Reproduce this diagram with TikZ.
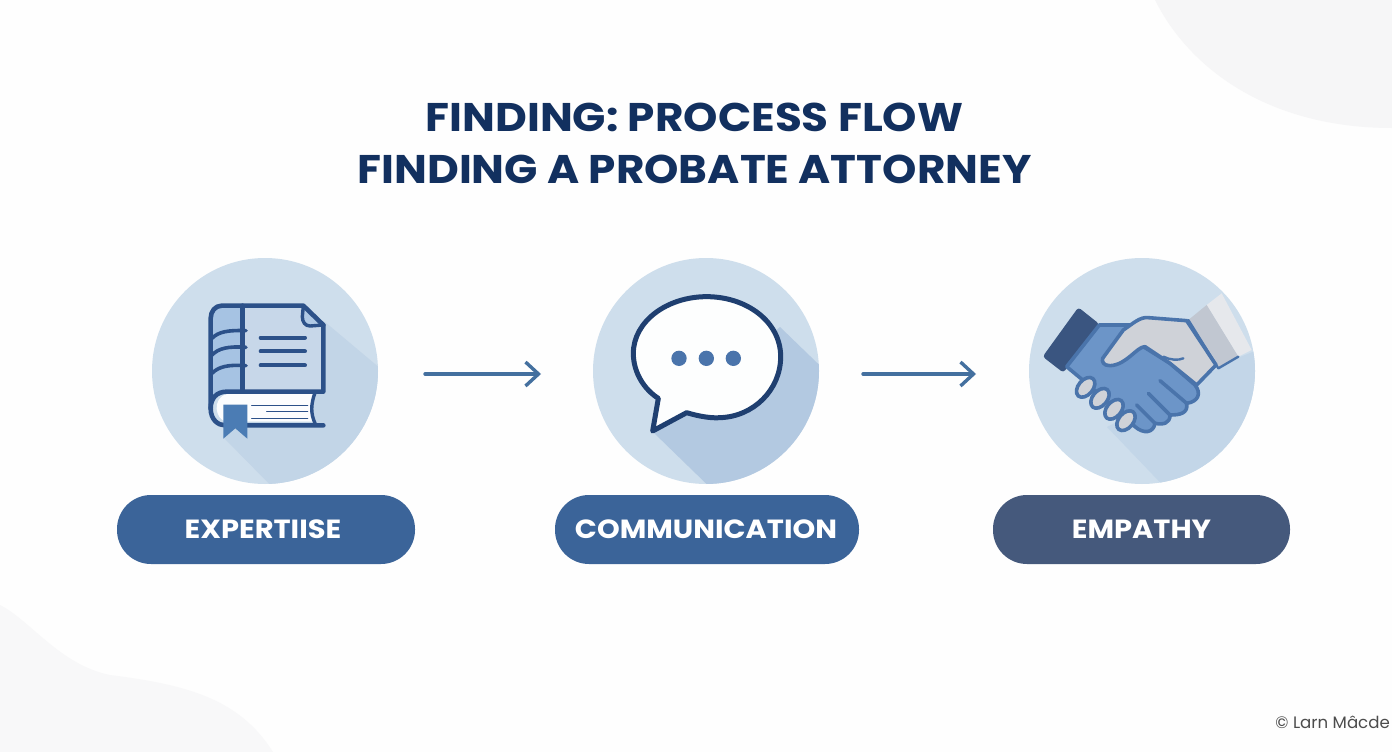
\documentclass[tikz,border=0pt]{standalone}
\usepackage{fontspec}
\setmainfont{Poppins}
\usetikzlibrary{arrows.meta}
\definecolor{bgc}{HTML}{FEFEFE}
\definecolor{blobc}{HTML}{F6F6F7}
\definecolor{blobb}{HTML}{F8F8F9}
\definecolor{navy}{HTML}{12305F}
\definecolor{discc}{HTML}{CEDEEC}
\definecolor{shA}{HTML}{C2D5E7}
\definecolor{shB}{HTML}{B3C9E1}
\definecolor{shC}{HTML}{C3D6E8}
\definecolor{pillA}{HTML}{3B6499}
\definecolor{pillB}{HTML}{45597C}
\definecolor{arrowc}{HTML}{44709F}
\definecolor{ink}{HTML}{2C5189}
\definecolor{inkd}{HTML}{1F3F70}
\definecolor{handb}{HTML}{6C95C8}
\definecolor{hands}{HTML}{4A74AB}
\definecolor{handg}{HTML}{CFD2D8}
\definecolor{cuffw}{HTML}{E6E8EC}
\definecolor{cuffg}{HTML}{C1C7D1}
\definecolor{cuffd}{HTML}{3A5580}
\definecolor{pagec}{HTML}{C7D7E9}
\definecolor{spinec}{HTML}{A6C3E3}
\definecolor{markc}{HTML}{4B7CB4}
\tikzset{
  x=1pt,y=-1pt,
  discnode/.style={circle,fill=discc,minimum size=226pt,inner sep=0pt},
  pill/.style={rounded corners=34pt,minimum height=69pt,inner sep=0pt,text=white,font=\fontsize{26.3}{30}\selectfont\bfseries\addfontfeatures{FakeStretch=1.1}},
  flow/.style={draw=arrowc,line width=3.4pt,line cap=round,-{Straight Barb[length=13pt,width=24pt,line width=3.4pt]}},
  zoomed/.style={x=0.33333pt,y=-0.33333pt,line join=round,line cap=round},
  iconline/.style={draw=ink,line width=4.6pt},
  handline/.style={draw=hands,line width=3.6pt},
}
\begin{document}
\begin{tikzpicture}
\useasboundingbox (0,0) rectangle (1392,752);
\fill[bgc] (0,0) rectangle (1392,752);
% background blobs
\fill[blobc] (1155,0) .. controls (1190,70) and (1270,128) .. (1392,128) -- (1392,0) -- cycle;
\fill[blobb] (0,605) .. controls (30,620) and (60,665) .. (110,675) .. controls (190,685) and (240,700) .. (273,752) -- (0,752) -- cycle;
% title
\node[font=\fontsize{40}{52}\selectfont\bfseries\addfontfeatures{FakeStretch=1.093},text=navy,align=center,anchor=center] (title) at (694.5,143) {FINDING: PROCESS FLOW\\FINDING A PROBATE ATTORNEY};
% discs
\node[discnode] (d1) at (265,371) {};
\node[discnode] (d2) at (706,371) {};
\node[discnode] (d3) at (1142,371) {};
% long shadows
\begin{scope}
\clip (265,371) circle (113);
\fill[shA] (325,322) -- (400,385) -- (400,500) -- (285,500) -- (223,437) -- cycle;
\end{scope}
\begin{scope}
\clip (706,371) circle (113);
\fill[shB] (780,327) -- (840,385) -- (840,500) -- (723,500) -- (653,432) -- cycle;
\end{scope}
\begin{scope}
\clip (1142,371) circle (113);
\fill[shC] (1107,427) -- (1175,498) -- (1270,498) -- (1270,345) -- (1240,357) -- cycle;
\end{scope}
% book
\begin{scope}[shift={(140,250)},zoomed]
\fill[pagec] (310,170) -- (490,170) -- (550,225) -- (550,425) -- (310,425) -- cycle;
\fill[spinec] (305,170) -- (245,170) .. controls (225,170) and (212,185) .. (212,205) -- (212,470) .. controls (215,440) and (235,425) .. (260,425) -- (305,425) -- cycle;
\fill[white!93!discc] (260,432) -- (525,432) .. controls (512,465) and (512,490) .. (525,515) -- (260,515) .. controls (225,510) and (215,445) .. (260,432) -- cycle;
\fill[spinec!70!pagec] (490,170) -- (550,225) -- (510,228) .. controls (495,228) and (487,215) .. (487,200) -- cycle;
\draw[iconline] (550,225) -- (550,425) -- (260,425) .. controls (230,425) and (212,445) .. (212,475) .. controls (212,510) and (235,526) .. (255,526) -- (550,526);
\draw[iconline] (212,475) -- (212,205) .. controls (212,185) and (225,167) .. (245,167) -- (490,167) -- (550,225);
\draw[iconline] (308,167) -- (308,425);
\draw[iconline,line width=3.4pt] (490,167) -- (487,200) .. controls (487,215) and (495,228) .. (510,228) -- (550,225);
\draw[iconline,line width=3.6pt] (216,265) .. controls (235,245) and (265,240) .. (318,242);
\draw[iconline,line width=3.6pt] (216,315) .. controls (235,295) and (265,288) .. (318,292);
\draw[iconline,line width=3.6pt] (216,370) .. controls (235,350) and (265,343) .. (318,347);
\draw[iconline,line width=4pt] (362,263) -- (495,263);
\draw[iconline,line width=4pt] (362,304) -- (495,304);
\draw[iconline,line width=4pt] (362,346) -- (495,346);
\draw[draw=ink,line width=1.2pt] (335,466) -- (503,466);
\draw[draw=ink,line width=1.2pt] (380,485) -- (503,485);
\draw[draw=ink,line width=1.2pt] (335,505) -- (503,505);
\draw[iconline,line width=3.4pt] (525,428) .. controls (512,465) and (512,490) .. (525,520);
\fill[markc] (250,464) -- (322,464) -- (322,566) -- (286,535) -- (250,566) -- cycle;
\end{scope}
% speech bubble
\begin{scope}[shift={(580,250)},zoomed]
\filldraw[fill=white!96!discc,draw=inkd,line width=5pt]
 (320,488) .. controls (360,500) and (395,505) .. (420,503)
 .. controls (520,500) and (602,420) .. (602,320)
 .. controls (602,215) and (500,140) .. (380,140)
 .. controls (260,140) and (160,215) .. (160,310)
 .. controls (160,370) and (195,420) .. (235,445)
 -- (218,543) -- cycle;
\fill[hands] (297,325) circle (23) (379,325) circle (23) (460,325) circle (23);
\end{scope}
% handshake
\begin{scope}[shift={(1020,250)},zoomed]
\fill[cuffw] (560,165) -- (605,130) -- (695,300) -- (655,320) -- cycle;
\fill[cuffg] (505,210) -- (560,165) -- (655,320) -- (595,355) -- cycle;
\draw[handline,line width=2.4pt] (505,210) -- (595,355) -- (655,320);
\fill[cuffd,rounded corners=3pt] (175,172) -- (238,222) -- (130,368) -- (68,320) -- cycle;
\filldraw[fill=handb,handline] (238,225) -- (340,225) -- (370,290) -- (450,340) -- (525,405) .. controls (545,430) and (535,455) .. (500,460) .. controls (505,490) and (480,495) .. (450,495) .. controls (450,520) and (430,525) .. (405,520) .. controls (400,550) and (370,552) .. (345,530) -- (200,400) -- (140,350) -- cycle;
\filldraw[fill=handg,handline] (248,325) -- (310,240) .. controls (340,220) and (360,200) .. (385,203) -- (500,212) -- (588,345) -- (530,405) -- (450,340) -- (375,290) .. controls (350,290) and (320,345) .. (270,347) .. controls (250,347) and (245,335) .. (248,325) -- cycle;
\draw[handline,line width=2.4pt] (430,320) .. controls (450,330) and (475,332) .. (490,325);
\draw[handline] (420,392) -- (500,460);
\draw[handline] (385,430) -- (450,495);
\draw[handline] (350,465) -- (405,520);
\foreach \cx/\cy in {197/412,240/445,282/478,318/512}{
  \filldraw[fill=handg,draw=hands,line width=3.6pt,rotate around={50:(\cx,\cy)}] (\cx,\cy) ellipse (34 and 22);
}
\end{scope}
% pills
\node[pill,fill=pillA,minimum width=298pt] (p1) at (266,529.5) {EXPERTIISE\hspace*{6pt}};
\node[pill,fill=pillA,minimum width=304pt] (p2) at (707,529.5) {\hspace*{-2pt}COMMUNICATION};
\node[pill,fill=pillB,minimum width=297pt] (p3) at (1141.5,529.5) {EMPATHY};
% flow arrows
\coordinate (a1) at (425,374);
\coordinate (b1) at (541,374);
\coordinate (a2) at (863,374);
\coordinate (b2) at (976,374);
\draw[flow] (a1) -- (b1);
\draw[flow] (a2) -- (b2);
% credit
\node[anchor=east,text=black!70,font=\fontsize{16.6}{20}\selectfont,inner sep=0pt] (credit) at (1390,722) {© Larn Mâcde};
\end{tikzpicture}
\end{document}
